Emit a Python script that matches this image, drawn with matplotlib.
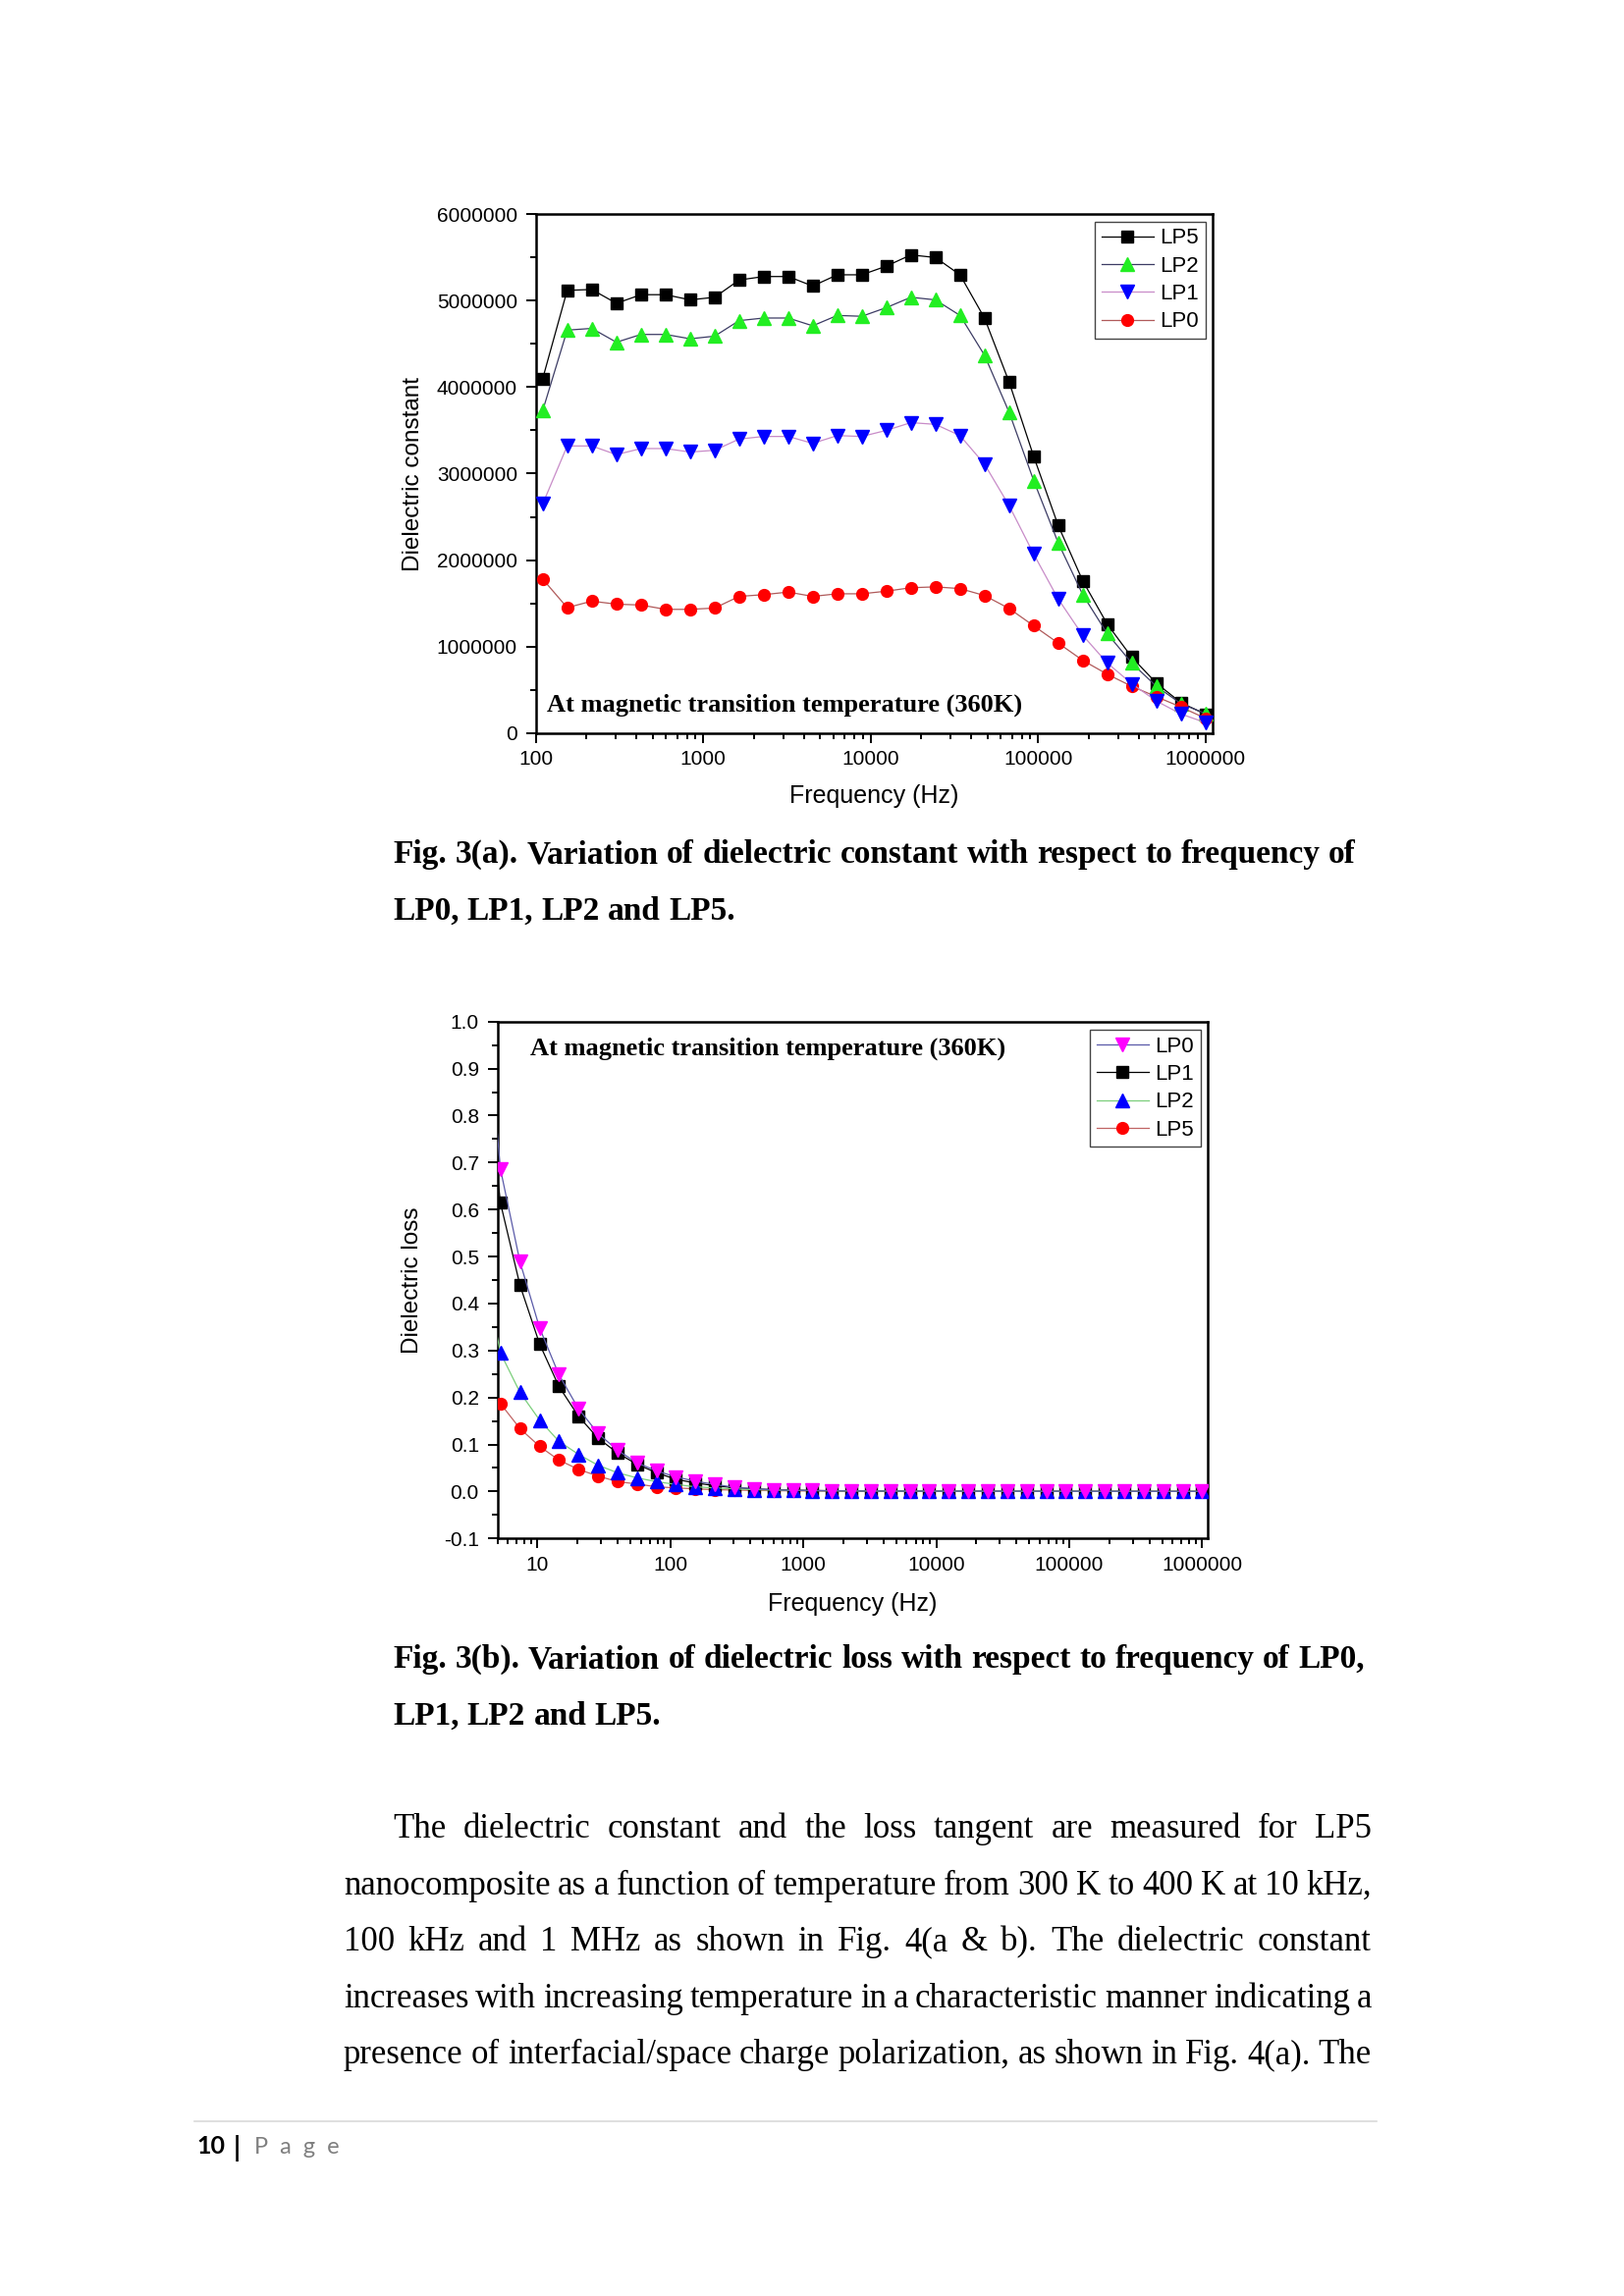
import matplotlib
matplotlib.use('Agg')
import matplotlib.pyplot as plt
from matplotlib.ticker import LogLocator, FuncFormatter, MultipleLocator, NullFormatter
from matplotlib.transforms import IdentityTransform
from matplotlib.lines import Line2D

plt.rcParams['font.family'] = ['Liberation Sans', 'DejaVu Sans']
plt.rcParams['axes.unicode_minus'] = False

# ---------------- data ----------------
# Fig 3(a): dielectric constant vs frequency (Hz)
freq_const = [110, 154, 216, 303, 425, 596, 835, 1170, 1640, 2300, 3220, 4510, 6320, 8860,
              12400, 17400, 24400, 34200, 47900, 67200, 94200, 132000, 185000, 259000,
              363000, 509000, 714000, 1000000]
const_LP5 = [4.10e6, 5.12e6, 5.13e6, 4.97e6, 5.07e6, 5.07e6, 5.01e6, 5.04e6, 5.24e6, 5.28e6,
             5.28e6, 5.17e6, 5.30e6, 5.30e6, 5.40e6, 5.53e6, 5.50e6, 5.30e6, 4.80e6, 4.06e6,
             3.20e6, 2.40e6, 1.76e6, 1.26e6, 0.877e6, 0.577e6, 0.35e6, 0.218e6]
const_LP2 = [3.73e6, 4.66e6, 4.68e6, 4.52e6, 4.61e6, 4.61e6, 4.56e6, 4.59e6, 4.77e6, 4.80e6,
             4.80e6, 4.71e6, 4.83e6, 4.82e6, 4.92e6, 5.04e6, 5.01e6, 4.83e6, 4.37e6, 3.71e6,
             2.92e6, 2.20e6, 1.60e6, 1.15e6, 0.81e6, 0.54e6, 0.34e6, 0.225e6]
const_LP1 = [2.65e6, 3.32e6, 3.32e6, 3.22e6, 3.29e6, 3.29e6, 3.25e6, 3.27e6, 3.40e6, 3.43e6,
             3.43e6, 3.35e6, 3.44e6, 3.43e6, 3.50e6, 3.59e6, 3.57e6, 3.44e6, 3.11e6, 2.63e6,
             2.07e6, 1.55e6, 1.13e6, 0.81e6, 0.57e6, 0.37e6, 0.22e6, 0.12e6]
const_LP0 = [1.78e6, 1.45e6, 1.525e6, 1.49e6, 1.48e6, 1.43e6, 1.43e6, 1.445e6, 1.58e6, 1.60e6,
             1.63e6, 1.58e6, 1.61e6, 1.61e6, 1.64e6, 1.68e6, 1.69e6, 1.67e6, 1.59e6, 1.44e6,
             1.24e6, 1.04e6, 0.84e6, 0.68e6, 0.54e6, 0.42e6, 0.30e6, 0.17e6]

# Fig 3(b): dielectric loss vs frequency (Hz); first point lies left of the visible range
freq_loss = [3.77, 5.28, 7.40, 10.4, 14.5, 20.4, 28.5, 40.0, 56.1, 78.6, 110, 154, 216, 303,
             425, 596, 835, 1170, 1640, 2300, 3220, 4510, 6320, 8860, 12400, 17400, 24400,
             34200, 47900, 67200, 94200, 132000, 185000, 259000, 363000, 509000, 714000, 1000000]
loss_LP0 = [1.15, 0.686, 0.489, 0.348, 0.249, 0.176, 0.124, 0.088, 0.061, 0.044, 0.031, 0.022,
            0.015, 0.009, 0.006, 0.0035, 0.0025, 0.002, 0.0015, 0.0012, 0.001, 0.001, 0.0008,
            0.0008, 0.0007, 0.0007, 0.0006, 0.0006, 0.0005, 0.0005, 0.0005, 0.0004, 0.0004,
            0.0004, 0.0003, 0.0003, 0.0003, 0.0003]
loss_LP1 = [1.00, 0.614, 0.439, 0.314, 0.224, 0.160, 0.114, 0.082, 0.058, 0.040, 0.026, 0.018,
            0.0125, 0.008, 0.0055, 0.004, 0.003, 0.0022, 0.0017, 0.0013, 0.001, 0.0009, 0.0008,
            0.0007, 0.0006, 0.0006, 0.0005, 0.0005, 0.0004, 0.0004, 0.0004, 0.0003, 0.0003,
            0.0003, 0.0003, 0.0002, 0.0002, 0.0002]
loss_LP2 = [0.50, 0.295, 0.211, 0.152, 0.107, 0.079, 0.056, 0.040, 0.029, 0.021, 0.015, 0.010,
            0.0077, 0.0055, 0.004, 0.003, 0.0024, 0.0019, 0.0015, 0.0012, 0.001, 0.0009, 0.0008,
            0.0007, 0.0006, 0.0006, 0.0005, 0.0005, 0.0004, 0.0004, 0.0004, 0.0003, 0.0003,
            0.0003, 0.0003, 0.0002, 0.0002, 0.0002]
loss_LP5 = [0.26, 0.187, 0.134, 0.096, 0.067, 0.047, 0.033, 0.021, 0.016, 0.010, 0.0077, 0.0055,
            0.004, 0.003, 0.0023, 0.0018, 0.0014, 0.0011, 0.0009, 0.0008, 0.0007, 0.0006, 0.0005,
            0.0005, 0.0004, 0.0004, 0.0004, 0.0003, 0.0003, 0.0003, 0.0003, 0.0002, 0.0002,
            0.0002, 0.0002, 0.0002, 0.0001, 0.0001]

annotation = "At magnetic transition temperature (360K)"
caption_a = ["Fig. 3(a). Variation of dielectric constant with respect to frequency of",
             "LP0, LP1, LP2 and LP5."]
caption_b = ["Fig. 3(b). Variation of dielectric loss with respect to frequency of LP0,",
             "LP1, LP2 and LP5."]
body = ["The dielectric constant and the loss tangent are measured for LP5",
        "nanocomposite as a function of temperature from 300 K to 400 K at 10 kHz,",
        "100 kHz and 1 MHz as shown in Fig. 4(a & b). The dielectric constant",
        "increases with increasing temperature in a characteristic manner indicating a",
        "presence of interfacial/space charge polarization, as shown in Fig. 4(a). The"]

# ---------------- figure ----------------
W, H = 1654, 2339
fig = plt.figure(figsize=(W / 100, H / 100), dpi=100)
fig.patch.set_facecolor('white')
SERIF = ['Liberation Serif', 'DejaVu Serif']


def ax_rect(l, r, t, b):
    return [l / W, 1 - b / H, (r - l) / W, (b - t) / H]


def style_axes(ax):
    for s in ax.spines.values():
        s.set_linewidth(1.8)
    ax.set_xscale('log')
    ax.tick_params(which='both', direction='out', top=False, right=False, width=1.4,
                   labelsize=15)
    ax.tick_params(which='major', length=7.5, pad=5)
    ax.tick_params(which='minor', length=4)
    ax.xaxis.set_major_locator(LogLocator(base=10, numticks=20))
    ax.xaxis.set_minor_locator(LogLocator(base=10, subs=range(2, 10), numticks=60))
    ax.xaxis.set_major_formatter(FuncFormatter(lambda v, p: f'{v:.0f}'))
    ax.xaxis.set_minor_formatter(NullFormatter())


LEG = dict(loc='upper right', borderaxespad=0, fontsize=16, fancybox=False,
           edgecolor='#444444', framealpha=1, handlelength=2.4, handletextpad=0.3,
           labelspacing=0.33, borderpad=0.3)

# ---- Fig 3(a)
ax1 = fig.add_axes(ax_rect(545.7, 1235, 218.3, 746.7))
style_axes(ax1)
lw = 0.9
ax1.plot(freq_const, const_LP5, '-s', color='black', mfc='black', mec='black', ms=8,
         lw=lw, zorder=3)
ax1.plot(freq_const, const_LP2, '-^', color='#3c3c64', mfc='#22ee22', mec='#22ee22', ms=9.5,
         lw=lw, zorder=4)
ax1.plot(freq_const, const_LP0, '-o', color='#b05a5a', mfc='#ff0000', mec='#ff0000', ms=8.5,
         lw=lw, zorder=5)
ax1.plot(freq_const, const_LP1, '-v', color='#c88cc8', mfc='#0000ff', mec='#0000ff', ms=9.5,
         lw=lw, zorder=6)
ax1.set_xlim(100, 1.104e6)
ax1.set_ylim(0, 6e6)
ax1.yaxis.set_major_locator(MultipleLocator(1e6))
ax1.yaxis.set_minor_locator(MultipleLocator(5e5))
ax1.yaxis.set_major_formatter(FuncFormatter(lambda v, p: f'{v:.0f}'))
ax1.tick_params(axis='y', which='major', pad=6)
ax1.set_xlabel('Frequency (Hz)', fontsize=18)
ax1.set_ylabel('Dielectric constant', fontsize=17.5)
ax1.xaxis.set_label_coords(0.5, -0.099)
ax1.yaxis.set_label_coords(-0.165, 0.5)
ax1.text((556.7 - 545.7) / 689.3, (746.7 - 724.3) / 528.4, annotation, transform=ax1.transAxes,
         family=SERIF, fontweight='bold', fontsize=19, ha='left', va='baseline')
h1 = [ax1.lines[i] for i in (0, 1, 3, 2)]
leg1 = ax1.legend(handles=h1, labels=['LP5', 'LP2', 'LP1', 'LP0'],
                  bbox_to_anchor=(0.9898, 0.986), **LEG)
leg1.get_frame().set_linewidth(1.0)

# ---- Fig 3(b)
ax2 = fig.add_axes(ax_rect(506.5, 1230, 1040.7, 1567.3))
style_axes(ax2)
ax2.plot(freq_loss, loss_LP5, '-o', color='#c06464', mfc='#ff0000', mec='#ff0000', ms=8.5,
         lw=lw, zorder=3)
ax2.plot(freq_loss, loss_LP1, '-s', color='black', mfc='black', mec='black', ms=8,
         lw=lw, zorder=4)
ax2.plot(freq_loss, loss_LP2, '-^', color='#7ccf7c', mfc='#0000ff', mec='#0000ff', ms=9.5,
         lw=lw, zorder=5)
ax2.plot(freq_loss, loss_LP0, '-v', color='#5a5aa8', mfc='#ff00ff', mec='#ff00ff', ms=9.5,
         lw=lw, zorder=6)
ax2.set_xlim(5, 1.1e6)
ax2.set_ylim(-0.1, 1.0)
ax2.yaxis.set_major_locator(MultipleLocator(0.1))
ax2.yaxis.set_minor_locator(MultipleLocator(0.05))
ax2.yaxis.set_major_formatter(FuncFormatter(lambda v, p: f'{v:.1f}'))
ax2.tick_params(axis='y', which='major', pad=6)
ax2.set_xlabel('Frequency (Hz)', fontsize=18)
ax2.set_ylabel('Dielectric loss', fontsize=17.5)
ax2.xaxis.set_label_coords(0.5, -0.104)
ax2.yaxis.set_label_coords(-0.104, 0.5)
ax2.text((540 - 506.5) / 723.5, (1567.3 - 1075) / 526.6, annotation, transform=ax2.transAxes,
         family=SERIF, fontweight='bold', fontsize=19, ha='left', va='baseline')
h2 = [ax2.lines[i] for i in (3, 1, 2, 0)]
leg2 = ax2.legend(handles=h2, labels=['LP0', 'LP1', 'LP2', 'LP5'],
                  bbox_to_anchor=(0.9903, 0.9842), **LEG)
leg2.get_frame().set_linewidth(1.0)

# ---------------- page text ----------------
renderer = fig.canvas.get_renderer()


def measure(s, size, weight):
    t = fig.text(0, 0, s, fontsize=size, fontweight=weight, family=SERIF,
                 transform=IdentityTransform())
    w = t.get_window_extent(renderer).width
    t.remove()
    return w


def block(lines, boxes, size, weight):
    """lines: list of str; boxes: list of (x0, x1, baseline_y, justify)."""
    sp = measure('x x', size, weight) - measure('xx', size, weight)
    nat = []
    for ln, (x0, x1, yb, j) in zip(lines, boxes):
        ws = [measure(w, size, weight) for w in ln.split()]
        nat.append((sum(ws) + sp * 0.7 * (len(ws) - 1)) / (x1 - x0))
    scale = min(1.0, 1.0 / max(nat))
    size = size * scale
    sp = measure('x x', size, weight) - measure('xx', size, weight)
    for ln, (x0, x1, yb, j) in zip(lines, boxes):
        words = ln.split()
        ws = [measure(w, size, weight) for w in words]
        gap = (x1 - x0 - sum(ws)) / (len(words) - 1) if j else sp
        x = x0
        for w, wd in zip(words, ws):
            fig.text(x, H - yb, w, fontsize=size, fontweight=weight, family=SERIF,
                     transform=IdentityTransform(), ha='left', va='baseline')
            x += wd + gap


block(caption_a, [(400, 1381, 879, True), (400, 1381, 937, False)], 24, 'bold')
block(caption_b, [(400, 1390, 1699, True), (400, 1390, 1757, False)], 24, 'bold')
block(body, [(400, 1397, 1872, True), (350, 1397, 1930, True), (350, 1397, 1987, True),
             (350, 1397, 2045, True), (350, 1397, 2102, True)], 25, 'normal')

# footer
fig.add_artist(Line2D([198 / W, 1402 / W], [1 - 2161 / H, 1 - 2161 / H], color='#d9d9d9', lw=1.2))
FOOT = ['Lato', 'DejaVu Sans']
fig.text(200 / W, 1 - 2194 / H, '10', family=FOOT, fontweight='bold', fontsize=18, va='baseline')
fig.text(238 / W, 1 - 2197 / H, '|', family=FOOT, fontweight='bold', fontsize=20, va='baseline')
fig.text(259 / W, 1 - 2194 / H, 'P  a  g  e', family=FOOT, fontsize=17, color='#7f7f7f',
         va='baseline')

fig.savefig('out.png', dpi=100, facecolor='white')
